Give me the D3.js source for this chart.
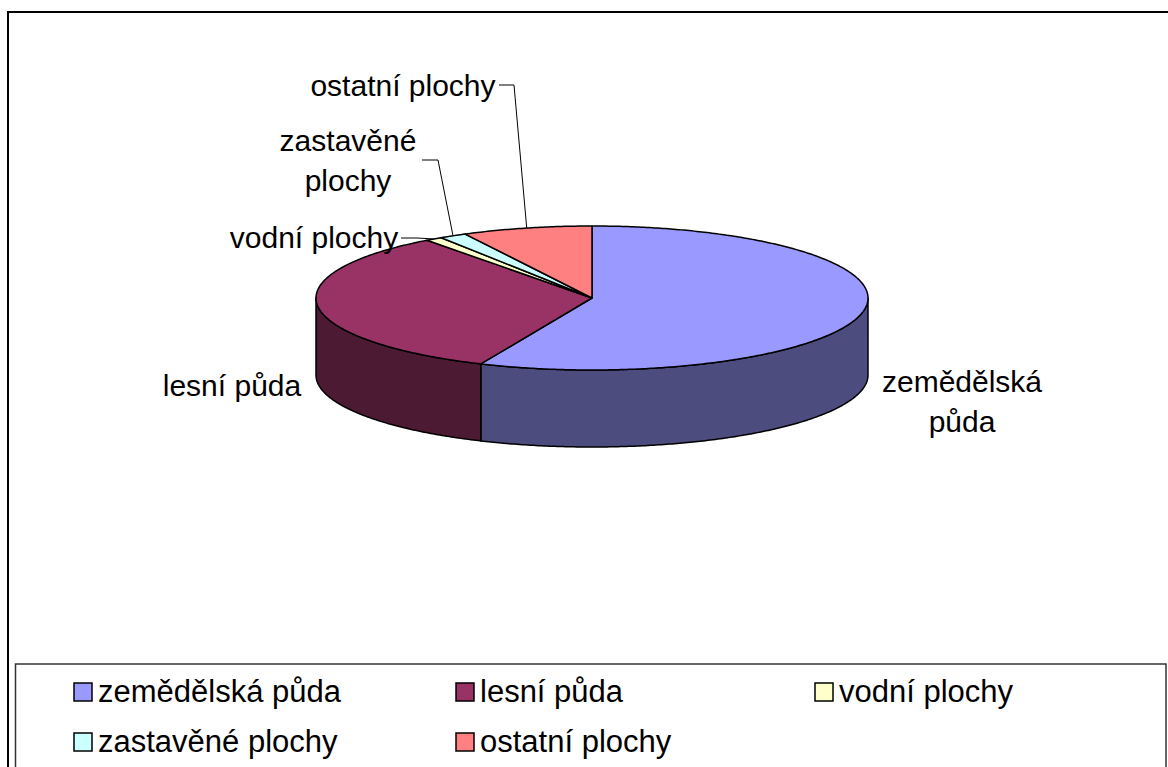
<!DOCTYPE html>
<html>
<head>
<meta charset="utf-8">
<script src="https://cdn.jsdelivr.net/npm/d3@7"></script>
<style>
  body { margin: 0; background: #fff; }
  svg { display: block; font-family: 'Liberation Sans', Arial, sans-serif; }
</style>
</head>
<body>
<script>
// land use shares (%)
const categories = ['zemědělská půda', 'lesní půda', 'vodní plochy', 'zastavěné plochy', 'ostatní plochy']
const values = [56.6, 33.2, 1.0, 1.6, 7.6]
const topColors = ['#9999FF', '#993366', '#FFFFCC', '#CCFFFF', '#FF8080']
const sideColors = ['#4C4C7F', '#4D1A33', '#808066', '#668080', '#804040']
const labelLines = [['zemědělská', 'půda'], ['lesní půda'], ['vodní plochy'], ['zastavěné', 'plochy'], ['ostatní plochy']]

const w = 1168
const h = 767

const cx = 592
const cy = 298
const rx = 276
const ry = 72
const depth = 77

const svg = d3.select('body').append('svg')
    .attr('width', w)
    .attr('height', h)

// chart area border (only top and left visible)
svg.append('path')
    .attr('d', `M8,${h + 5} L8,12 L${w + 5},12`)
    .attr('fill', 'none')
    .attr('stroke', '#000')
    .attr('stroke-width', 2)

const pie = d3.pie().sort(null).value(d => d)
const arcs = pie(values)

const px = a => cx + rx * Math.sin(a)
const py = (a, z = 0) => cy - ry * Math.cos(a) + z

const arcPoints = (a0, a1, z) => {
    const n = Math.max(2, Math.ceil(Math.abs(a1 - a0) / 0.01))
    return d3.range(n + 1).map(i => {
        const a = a0 + (a1 - a0) * i / n
        return [px(a), py(a, z)]
    })
}

const line = d3.line()

// side walls (front half only)
const walls = svg.append('g')
arcs.forEach((d, i) => {
    const a0 = Math.max(d.startAngle, Math.PI / 2)
    const a1 = Math.min(d.endAngle, Math.PI * 3 / 2)
    if (a1 <= a0) return
    const pts = arcPoints(a0, a1, 0).concat(arcPoints(a1, a0, depth))
    walls.append('path')
        .attr('d', line(pts) + 'Z')
        .attr('fill', sideColors[i])
        .attr('stroke', '#000')
        .attr('stroke-width', 1.5)
        .attr('stroke-linejoin', 'round')
})

// top faces
const tops = svg.append('g')
arcs.forEach((d, i) => {
    const pts = [[cx, cy]].concat(arcPoints(d.startAngle, d.endAngle, 0))
    tops.append('path')
        .attr('d', line(pts) + 'Z')
        .attr('fill', topColors[i])
        .attr('stroke', '#000')
        .attr('stroke-width', 1.5)
        .attr('stroke-linejoin', 'round')
})

// data labels
const fontSize = 30
const labelPos = [
    { x: 962, y: 392 },
    { x: 232, y: 396 },
    { x: 314, y: 248, leader: [[401, 238], [417, 238]] },
    { x: 348, y: 151, leader: [[422, 160], [438, 160]] },
    { x: 403, y: 96, leader: [[499, 85], [514, 85]] }
]

const labels = svg.append('g')
arcs.forEach((d, i) => {
    const p = labelPos[i]
    const t = labels.append('text')
        .attr('x', p.x)
        .attr('y', p.y)
        .attr('text-anchor', 'middle')
        .attr('font-size', fontSize)
        .attr('fill', '#000')
    labelLines[i].forEach((s, j) => {
        t.append('tspan')
            .attr('x', p.x)
            .attr('dy', j === 0 ? 0 : 40)
            .text(s)
    })
    if (p.leader) {
        const mid = (d.startAngle + d.endAngle) / 2
        const pts = p.leader.concat([[px(mid), py(mid)]])
        labels.append('path')
            .attr('d', line(pts))
            .attr('fill', 'none')
            .attr('stroke', '#000')
            .attr('stroke-width', 1)
    }
})

// legend
svg.append('rect')
    .attr('x', 15.5)
    .attr('y', 664)
    .attr('width', 1150.5)
    .attr('height', 120)
    .attr('fill', '#fff')
    .attr('stroke', '#333')
    .attr('stroke-width', 1.5)

const colX = [74, 456, 815]
const rowY = [692, 742]

const legend = svg.selectAll('.legend')
    .data(categories)
    .enter()
    .append('g')
    .attr('class', 'legend')
    .attr('transform', (d, i) => `translate(${colX[i % 3]}, ${rowY[Math.floor(i / 3)]})`)

legend.append('rect')
    .attr('x', 0)
    .attr('y', -9)
    .attr('width', 18)
    .attr('height', 18)
    .attr('fill', (d, i) => topColors[i])
    .attr('stroke', '#000')
    .attr('stroke-width', 1.5)

legend.append('text')
    .attr('x', 24)
    .attr('y', 10)
    .attr('font-size', 31)
    .attr('fill', '#000')
    .text(d => d)
</script>
</body>
</html>
